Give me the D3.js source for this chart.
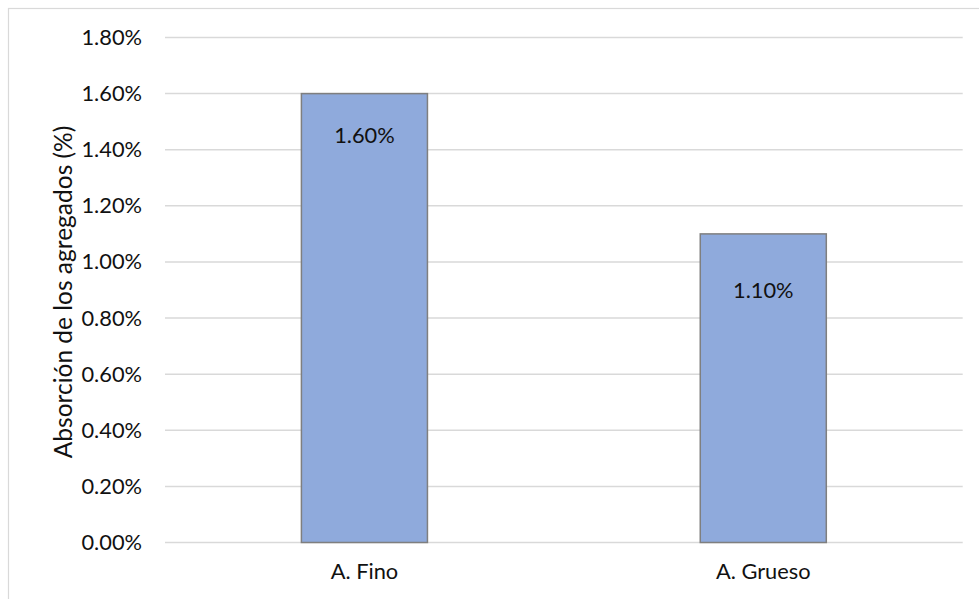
<!DOCTYPE html>
<html>
<head>
<meta charset="utf-8">
<script src="https://cdn.jsdelivr.net/npm/d3@7"></script>
<style>
  html, body { margin: 0; padding: 0; background: #fff; }
  svg { display: block; }
  text { font-family: Lato, "Open Sans", sans-serif; fill: #111; }
</style>
</head>
<body>
<svg id="chart" width="979" height="599"></svg>
<script>
// ---- data ----
const categories = ["A. Fino", "A. Grueso"];
const values = [0.016, 0.011];
const yTicks = [0, 0.002, 0.004, 0.006, 0.008, 0.010, 0.012, 0.014, 0.016, 0.018];
const yTitle = "Absorción de los agregados (%)";
// label offset below bar top (layout)
const labelDy = [49, 64];

const W = 979, H = 599;
const margin = { left: 165, right: 979 - 962.7, top: 37.5, bottom: 599 - 542.5 };
const svg = d3.select("#chart");

// chart border
svg.append("rect")
  .attr("x", 8.5).attr("y", 8.5)
  .attr("width", W + 10).attr("height", H + 10)
  .attr("fill", "none").attr("stroke", "#d9d9d9").attr("stroke-width", 1.2);

const x = d3.scaleBand()
  .domain(categories)
  .range([margin.left, W - margin.right])
  .paddingInner(0.684).paddingOuter(0.342);

const y = d3.scaleLinear()
  .domain([0, 0.018])
  .range([H - margin.bottom, margin.top]);

// gridlines
svg.append("g")
  .selectAll("line").data(yTicks).join("line")
  .attr("x1", margin.left).attr("x2", W - margin.right)
  .attr("y1", d => y(d)).attr("y2", d => y(d))
  .attr("stroke", "#d9d9d9").attr("stroke-width", 1.5);

// y axis labels
const yAxis = d3.axisLeft(y).tickValues(yTicks).tickFormat(d3.format(".2%")).tickSize(0).tickPadding(23);
const gy = svg.append("g").attr("transform", `translate(${margin.left},0)`).call(yAxis);
gy.select(".domain").remove();
gy.selectAll("text").attr("font-size", 21.8).attr("font-family", "Lato, sans-serif").attr("fill", "#111");

// x axis labels
const xAxis = d3.axisBottom(x).tickSize(0).tickPadding(21);
const gx = svg.append("g").attr("transform", `translate(0,${H - margin.bottom})`).call(xAxis);
gx.select(".domain").remove();
gx.selectAll("text").attr("font-size", 21.8).attr("font-family", "Lato, sans-serif").attr("fill", "#111");

// bars
svg.append("g")
  .selectAll("rect").data(values).join("rect")
  .attr("x", (d, i) => x(categories[i]))
  .attr("y", d => y(d))
  .attr("width", x.bandwidth())
  .attr("height", d => y(0) - y(d))
  .attr("fill", "#8faadc")
  .attr("stroke", "#7f7f7f").attr("stroke-width", 1.5);

// data labels
svg.append("g")
  .selectAll("text").data(values).join("text")
  .attr("x", (d, i) => x(categories[i]) + x.bandwidth() / 2)
  .attr("y", (d, i) => y(d) + labelDy[i])
  .attr("text-anchor", "middle")
  .attr("font-size", 21.8)
  .text(d => d3.format(".2%")(d));

// y title
svg.append("text")
  .attr("transform", `translate(72,${(margin.top + H - margin.bottom) / 2 + 2}) rotate(-90)`)
  .attr("text-anchor", "middle")
  .attr("font-size", 24.5)
  .text(yTitle);
</script>
</body>
</html>
